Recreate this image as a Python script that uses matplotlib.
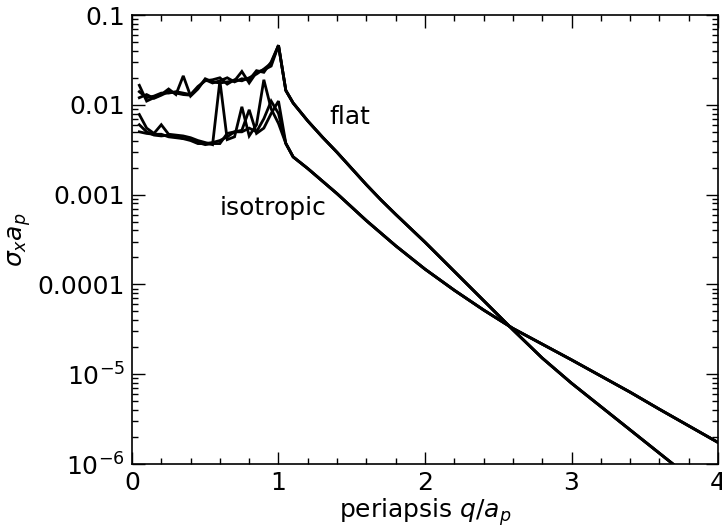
import numpy as np
import matplotlib
matplotlib.use("Agg")
import matplotlib.pyplot as plt
from matplotlib.ticker import FixedLocator, FixedFormatter, MultipleLocator, LogLocator, NullFormatter

plt.rcParams["font.family"] = "DejaVu Sans"
plt.rcParams["mathtext.fontset"] = "dejavusans"

# periapsis samples inside the planet's orbit (noisy Monte-Carlo region)
q_inner = [0.05, 0.10, 0.15, 0.20, 0.25, 0.30, 0.35, 0.40, 0.45, 0.50,
           0.55, 0.60, 0.65, 0.70, 0.75, 0.80, 0.85, 0.90, 0.95, 1.00]

# flat (coplanar) distribution, three runs
flat_run1 = [0.0165, 0.0110, 0.0120, 0.0130, 0.0150, 0.0130, 0.0210, 0.0125, 0.0150, 0.0195,
             0.0180, 0.0175, 0.0180, 0.0185, 0.0235, 0.0175, 0.0230, 0.0245, 0.0270, 0.046]
flat_run2 = [0.0140, 0.0120, 0.0125, 0.0135, 0.0135, 0.0140, 0.0135, 0.0130, 0.0160, 0.0185,
             0.0190, 0.0200, 0.0170, 0.0190, 0.0185, 0.0200, 0.0220, 0.0250, 0.0290, 0.046]
flat_run3 = [0.0120, 0.0130, 0.0118, 0.0128, 0.0140, 0.0135, 0.0130, 0.0128, 0.0155, 0.0190,
             0.0175, 0.0185, 0.0200, 0.0180, 0.0195, 0.0190, 0.0240, 0.0230, 0.0300, 0.046]

# isotropic distribution, three runs
iso_run1 = [0.0078, 0.0055, 0.0048, 0.0060, 0.0047, 0.0046, 0.0045, 0.0043, 0.0040, 0.0038,
            0.0036, 0.0185, 0.0041, 0.0044, 0.0095, 0.0045, 0.0060, 0.0190, 0.0090, 0.0062]
iso_run2 = [0.0060, 0.0050, 0.0046, 0.0045, 0.0046, 0.0045, 0.0042, 0.0042, 0.0038, 0.0036,
            0.0037, 0.0037, 0.0048, 0.0050, 0.0052, 0.0088, 0.0048, 0.0055, 0.0080, 0.0110]
iso_run3 = [0.0050, 0.0048, 0.0047, 0.0047, 0.0044, 0.0043, 0.0042, 0.0040, 0.0037, 0.0037,
            0.0038, 0.0040, 0.0044, 0.0050, 0.0050, 0.0055, 0.0050, 0.0070, 0.0110, 0.0080]

# periapsis samples outside the orbit (smooth analytic tail), log10 of cross-section
q_outer = [1.05, 1.10, 1.20, 1.30, 1.40, 1.50, 1.60, 1.70, 1.80, 1.90, 2.00, 2.20,
           2.40, 2.60, 2.80, 3.00, 3.20, 3.40, 3.60, 3.80, 4.00]
flat_tail_log = [-1.84, -1.98, -2.18, -2.36, -2.53, -2.71, -2.89, -3.06, -3.22, -3.375, -3.53,
                 -3.855, -4.18, -4.505, -4.82, -5.10, -5.36, -5.62, -5.88, -6.14, -6.40]
iso_tail_log = [-2.43, -2.58, -2.71, -2.85, -2.99, -3.14, -3.29, -3.43, -3.57, -3.70, -3.83,
                -4.065, -4.285, -4.49, -4.665, -4.84, -5.02, -5.20, -5.39, -5.575, -5.76]

y_ticks = [1e-6, 1e-5, 1e-4, 1e-3, 1e-2, 1e-1]
y_ticklabels = [r"$10^{-6}$", r"$10^{-5}$", "0.0001", "0.001", "0.01", "0.1"]

FS = 18

fig = plt.figure(figsize=(7.22, 5.32), dpi=100)
ax = fig.add_axes([0.1828, 0.1278, 0.8117, 0.844])

q_all = np.concatenate([q_inner, q_outer])
for runs, tail in (((flat_run1, flat_run2, flat_run3), flat_tail_log),
                   ((iso_run1, iso_run2, iso_run3), iso_tail_log)):
    tail_vals = 10.0 ** np.asarray(tail)
    for run in runs:
        ax.plot(q_all, np.concatenate([run, tail_vals]), color="black", lw=2.0,
                solid_joinstyle="miter")

ax.set_yscale("log")
ax.set_xlim(0, 4)
ax.set_ylim(1e-6, 0.1)

ax.xaxis.set_major_locator(MultipleLocator(1))
ax.xaxis.set_minor_locator(MultipleLocator(0.2))
ax.yaxis.set_major_locator(FixedLocator(y_ticks))
ax.yaxis.set_major_formatter(FixedFormatter(y_ticklabels))
ax.yaxis.set_minor_locator(LogLocator(base=10, subs=np.arange(2, 10)))
ax.yaxis.set_minor_formatter(NullFormatter())

ax.tick_params(which="both", direction="in", top=True, right=True, labelsize=FS,
               width=1.0, colors="black")
ax.tick_params(which="major", length=9, pad=5)
ax.tick_params(which="minor", length=4.5)
for s in ax.spines.values():
    s.set_linewidth(1.2)

ax.set_xlabel(r"periapsis $q/a_p$", fontsize=FS, labelpad=1)
ax.set_ylabel(r"$\sigma_x a_p$", fontsize=FS, labelpad=3)

ax.text(1.35, 7.3e-3, "flat", fontsize=FS, ha="left", va="center")
ax.text(0.60, 7.1e-4, "isotropic", fontsize=FS, ha="left", va="center")

fig.savefig("out.png", dpi=100)
